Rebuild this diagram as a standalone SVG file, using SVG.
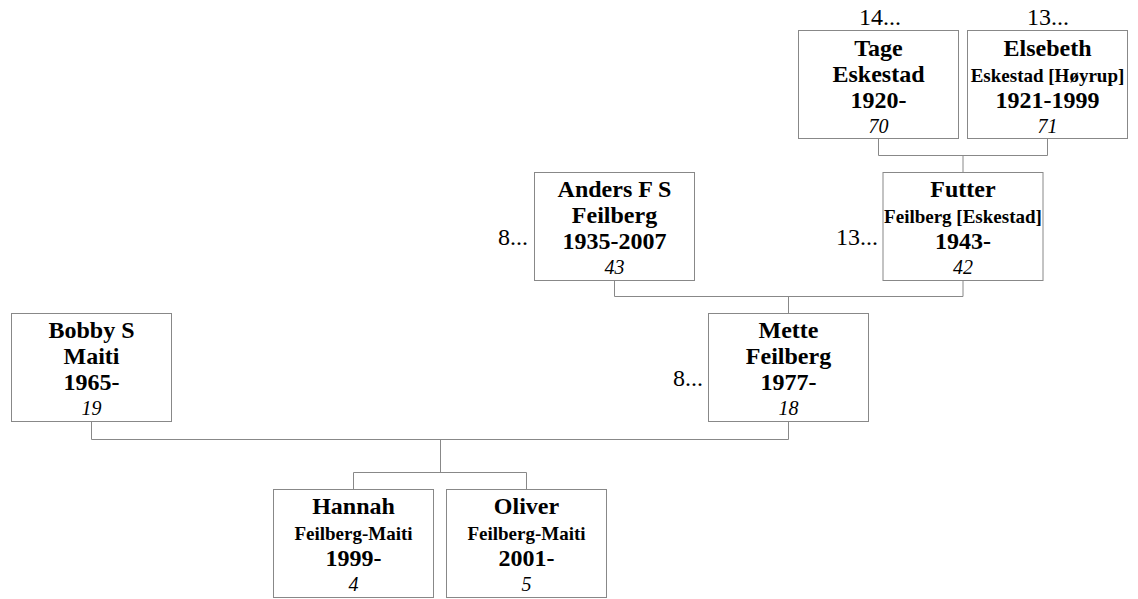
<svg xmlns="http://www.w3.org/2000/svg" width="1138" height="599" viewBox="0 0 1138 599">
<style>
.box{fill:#fff;stroke:#888;stroke-width:1}
.con{fill:none;stroke:#888;stroke-width:1}
text{font-family:"Liberation Serif","Times New Roman",serif;fill:#000;text-anchor:middle}
.n{font-size:24px;font-weight:bold}
.s{font-size:19px;font-weight:bold}
.i{font-size:20px;font-style:italic}
.r{font-size:24px}
.e{text-anchor:end}
</style>
<rect width="1138" height="599" fill="#fff"/>
<g id="connectors">
<path class="con" d="M878.5 138.5V155.5H1047.5V138.5M963 155.5V172.5"/>
<path class="con" d="M614.5 280.5V296.5H963V280.5M788.5 296.5V313.5"/>
<path class="con" d="M91.5 421.5V439.5H788.5V421.5M440.5 439.5V472.5M353.5 489.5V472.5H526.5V489.5"/>
</g>
<g id="tage">
<rect class="box" x="798.5" y="30.5" width="160" height="108"/>
<text class="r" x="880" y="25">14...</text>
<text class="n" x="878.5" y="56">Tage</text>
<text class="n" x="878.5" y="82">Eskestad</text>
<text class="n" x="878.5" y="108">1920-</text>
<text class="i" x="878.5" y="132.5">70</text>
</g>
<g id="elsebeth">
<rect class="box" x="967.5" y="30.5" width="160" height="108"/>
<text class="r" x="1048" y="25">13...</text>
<text class="n" x="1047.5" y="56">Elsebeth</text>
<text class="s" x="1047.5" y="82">Eskestad [Høyrup]</text>
<text class="n" x="1047.5" y="108">1921-1999</text>
<text class="i" x="1047.5" y="132.5">71</text>
</g>
<g id="anders">
<rect class="box" x="534.5" y="172.5" width="160" height="108"/>
<text class="r e" x="528" y="245">8...</text>
<text class="n" x="614.5" y="197">Anders F S</text>
<text class="n" x="614.5" y="223">Feilberg</text>
<text class="n" x="614.5" y="249">1935-2007</text>
<text class="i" x="614.5" y="273.5">43</text>
</g>
<g id="futter">
<rect class="box" x="883" y="172.5" width="160" height="108"/>
<text class="r e" x="878" y="245">13...</text>
<text class="n" x="963" y="197">Futter</text>
<text class="s" x="963" y="223">Feilberg [Eskestad]</text>
<text class="n" x="963" y="249">1943-</text>
<text class="i" x="963" y="273.5">42</text>
</g>
<g id="bobby">
<rect class="box" x="11.5" y="313.5" width="160" height="108"/>
<text class="n" x="91.5" y="338">Bobby S</text>
<text class="n" x="91.5" y="364">Maiti</text>
<text class="n" x="91.5" y="390">1965-</text>
<text class="i" x="91.5" y="414.5">19</text>
</g>
<g id="mette">
<rect class="box" x="708.5" y="313.5" width="160" height="108"/>
<text class="r e" x="703" y="386">8...</text>
<text class="n" x="788.5" y="338">Mette</text>
<text class="n" x="788.5" y="364">Feilberg</text>
<text class="n" x="788.5" y="390">1977-</text>
<text class="i" x="788.5" y="414.5">18</text>
</g>
<g id="hannah">
<rect class="box" x="273.5" y="489.5" width="160" height="108"/>
<text class="n" x="353.5" y="513.5">Hannah</text>
<text class="s" x="353.5" y="540">Feilberg-Maiti</text>
<text class="n" x="353.5" y="566">1999-</text>
<text class="i" x="353.5" y="591">4</text>
</g>
<g id="oliver">
<rect class="box" x="446.5" y="489.5" width="160" height="108"/>
<text class="n" x="526.5" y="513.5">Oliver</text>
<text class="s" x="526.5" y="540">Feilberg-Maiti</text>
<text class="n" x="526.5" y="566">2001-</text>
<text class="i" x="526.5" y="591">5</text>
</g>
</svg>
